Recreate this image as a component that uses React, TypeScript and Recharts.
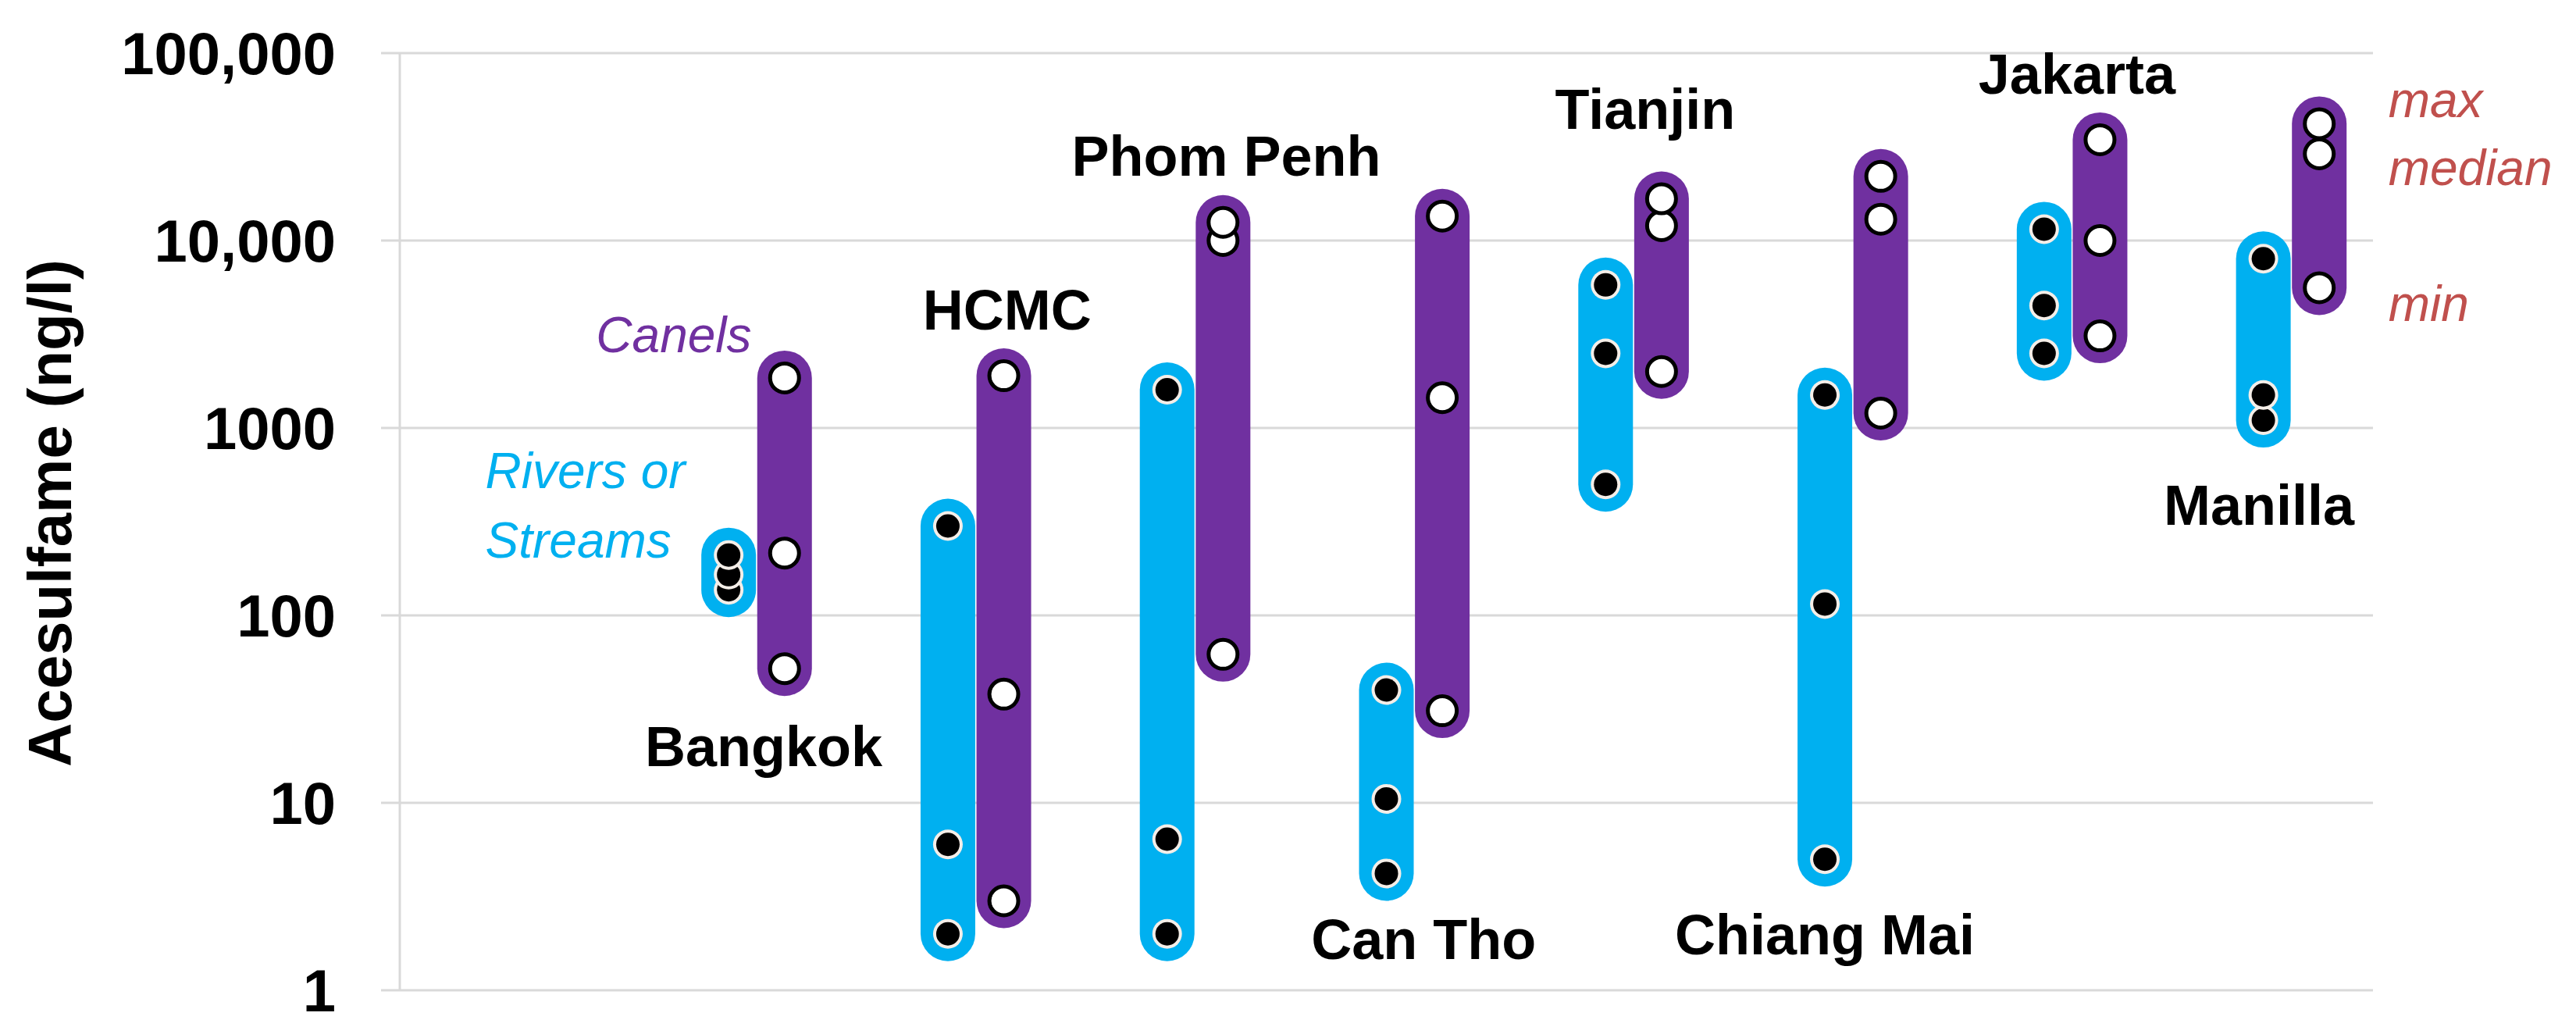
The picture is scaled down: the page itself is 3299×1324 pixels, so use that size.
import { ScatterChart, Scatter, XAxis, YAxis, CartesianGrid, ReferenceDot } from "recharts";

// acesulfame per city, ng/l
const cities = ["Bangkok", "HCMC", "Phom Penh", "Can Tho", "Tianjin", "Chiang Mai", "Jakarta", "Manilla"];
const riverMax = [210, 300, 1600, 40, 5800, 1500, 11500, 8000];
const riverMedian = [165, 6, 6.4, 10.5, 2500, 115, 4500, 1500];
const riverMin = [137, 2, 2, 4.2, 500, 5, 2500, 1100];
const canalMax = [1850, 1900, 12500, 13500, 16700, 22000, 34500, 42000];
const canalMedian = [215, 38, 10000, 1450, 12000, 13000, 10000, 29000];
const canalMin = [52, 3, 62, 31, 2000, 1200, 3100, 5600];

const yTicks = [1, 10, 100, 1000, 10000, 100000];
const yTickLabels = ["1", "10", "100", "1000", "10,000", "100,000"];

// annotation text, placed in data units (x = city slot, y = ng/l at baseline)
const cityLabelX = [1.16, 2.27, 3.27, 4.17, 5.18, 6.0, 7.15, 7.98];
const cityLabelY = [15.7, 3350, 22200, 1.47, 39400, 1.55, 60700, 304];
const notes = [
  { text: "Canels", x: 0.75, y: 2540, kind: "canal" },
  { text: "Rivers or", x: -0.11, y: 478, kind: "river" },
  { text: "Streams", x: -0.11, y: 203, kind: "river" },
  { text: "max", x: 8.57, y: 45500, kind: "stat" },
  { text: "median", x: 8.57, y: 19800, kind: "stat" },
  { text: "min", x: 8.57, y: 3720, kind: "stat" },
];

const BLUE = "#00b0f0";
const PURPLE = "#7030a0";
const RED = "#c0504d";
const GRID = "#d9d9d9";
const FONT = "'Liberation Sans', Arial, sans-serif";
const CANAL_OFFSET = 0.255;

const riverSeries = cities.map((_, i) => [
  { x: i + 1, y: riverMin[i] },
  { x: i + 1, y: riverMedian[i] },
  { x: i + 1, y: riverMax[i] },
]);
const canalSeries = cities.map((_, i) => [
  { x: i + 1 + CANAL_OFFSET, y: canalMin[i] },
  { x: i + 1 + CANAL_OFFSET, y: canalMedian[i] },
  { x: i + 1 + CANAL_OFFSET, y: canalMax[i] },
]);

const noteStyle: Record<string, { fill: string; italic: boolean; size: number; anchor: string }> = {
  city: { fill: "#000", italic: false, size: 72, anchor: "middle" },
  canal: { fill: PURPLE, italic: true, size: 64, anchor: "middle" },
  river: { fill: BLUE, italic: true, size: 64, anchor: "start" },
  stat: { fill: RED, italic: true, size: 64, anchor: "start" },
};

function YTick(props: any) {
  const { x, y, payload } = props;
  const idx = yTicks.indexOf(payload.value);
  return (
    <text x={x} y={y} dy="0.36em" textAnchor="end" fontSize={76} fontWeight="bold" fill="#000" fontFamily={FONT}>
      {yTickLabels[idx]}
    </text>
  );
}

const RiverDot = (p: any) => (
  <g>
    <circle cx={p.cx} cy={p.cy} r={19} fill="#f4eee8" />
    <circle cx={p.cx} cy={p.cy} r={15} fill="#000" />
  </g>
);

const CanalDot = (p: any) => (
  <circle cx={p.cx} cy={p.cy} r={18.5} fill="#fff" stroke="#000" strokeWidth={5} />
);

const noShape = () => <g />;

function noteLabel(text: string, kind: string) {
  const s = noteStyle[kind];
  return (props: any) => {
    const vb = props.viewBox || {};
    const cx = (vb.x ?? 0) + (vb.width ?? 0) / 2;
    const cy = (vb.y ?? 0) + (vb.height ?? 0) / 2;
    return (
      <text
        x={cx}
        y={cy}
        textAnchor={s.anchor}
        fontSize={s.size}
        fontWeight={kind === "city" ? "bold" : "normal"}
        fontStyle={s.italic ? "italic" : "normal"}
        fill={s.fill}
        fontFamily={FONT}
      >
        {text}
      </text>
    );
  };
}

export default function App() {
  return (
    <div style={{ position: "absolute", left: 0, top: 0, background: "#fff" }}>
      <ScatterChart width={3299} height={1324} margin={{ top: 68, right: 260, bottom: 56, left: 20 }}>
        <CartesianGrid vertical={false} stroke={GRID} strokeWidth={3} />
        <XAxis type="number" dataKey="x" domain={[-0.5, 8.5]} hide />
        <YAxis
          type="number"
          dataKey="y"
          scale="log"
          domain={[1, 100000]}
          ticks={yTicks}
          interval={0}
          width={492}
          tickSize={24}
          tickMargin={58}
          axisLine={{ stroke: GRID, strokeWidth: 3 }}
          tickLine={{ stroke: GRID, strokeWidth: 3 }}
          tick={<YTick />}
          label={(props: any) => {
            const vb = props.viewBox || {};
            const x = (vb.x ?? 20) + 71;
            const y = 657;
            return (
              <text
                x={x}
                y={y}
                transform={`rotate(-90, ${x}, ${y})`}
                textAnchor="middle"
                fontSize={78}
                fontWeight="bold"
                fill="#000"
                fontFamily={FONT}
              >
                Acesulfame (ng/l)
              </text>
            );
          }}
        />
        {riverSeries.map((d, i) => (
          <Scatter
            key={`rb${i}`}
            data={d}
            fill={BLUE}
            line={{ stroke: BLUE, strokeWidth: 70, strokeLinecap: "round" }}
            shape={noShape}
            isAnimationActive={false}
          />
        ))}
        {canalSeries.map((d, i) => (
          <Scatter
            key={`cb${i}`}
            data={d}
            fill={PURPLE}
            line={{ stroke: PURPLE, strokeWidth: 70, strokeLinecap: "round" }}
            shape={noShape}
            isAnimationActive={false}
          />
        ))}
        <Scatter data={riverSeries.flat()} fill="#000" shape={RiverDot} isAnimationActive={false} />
        <Scatter data={canalSeries.flat()} fill="#fff" shape={CanalDot} isAnimationActive={false} />
        {cities.map((c, i) => (
          <ReferenceDot
            key={`lab${i}`}
            x={cityLabelX[i]}
            y={cityLabelY[i]}
            r={1}
            fill="none"
            stroke="none"
            ifOverflow="visible"
            label={noteLabel(c, "city")}
          />
        ))}
        {notes.map((n, i) => (
          <ReferenceDot
            key={`note${i}`}
            x={n.x}
            y={n.y}
            r={1}
            fill="none"
            stroke="none"
            ifOverflow="visible"
            label={noteLabel(n.text, n.kind)}
          />
        ))}
      </ScatterChart>
    </div>
  );
}
